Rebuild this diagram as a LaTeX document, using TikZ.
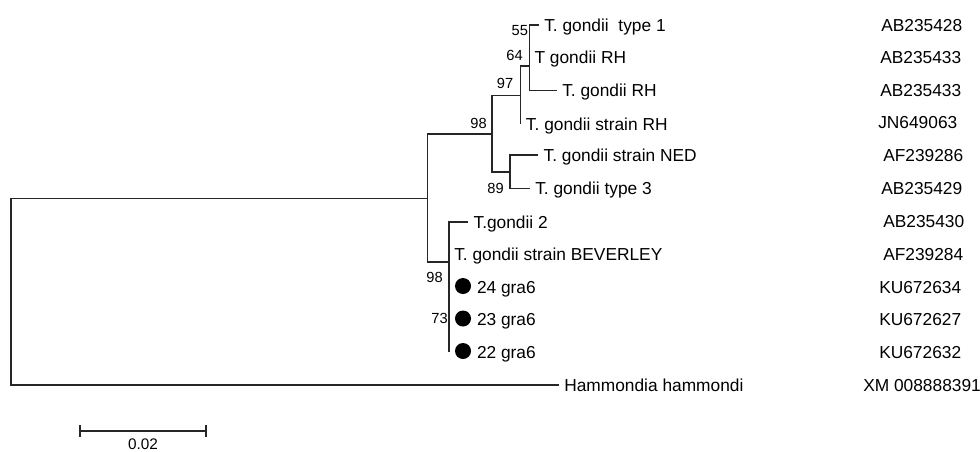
\documentclass[tikz,border=0pt]{standalone}
\usepackage{fontspec}
\setmainfont{Liberation Sans}
\usetikzlibrary{arrows.meta}

\begin{document}
\begin{tikzpicture}[x=0.75pt,y=-0.75pt,
	branch/.style={line width=1.15pt,color=black!85},
	leaf/.style={anchor=base west,inner sep=0pt,font=\fontsize{13}{15}\selectfont},
	boot/.style={anchor=east,inner sep=0pt,font=\fontsize{11}{13}\selectfont},
	accession/.style={anchor=base west,inner sep=0pt,font=\fontsize{13}{15}\selectfont},
	sample/.style={circle,fill=black,inner sep=0pt,minimum size=12pt}]

\useasboundingbox (0,0) rectangle (980,451);

% inner nodes of the tree
\coordinate (root) at (11,292);
\coordinate (toxo) at (427.5,198.5);
\coordinate (upper) at (492,134);
\coordinate (n97) at (520.7,95.3);
\coordinate (n64) at (529.3,66);
\coordinate (n55) at (529.3,41);
\coordinate (n89) at (510,172);
\coordinate (lower) at (449,262);
\coordinate (n73) at (449,303);

% tips
\coordinate (tip1) at (539,25);
\coordinate (tip2) at (529.3,57.3);
\coordinate (tip3) at (557,90.7);
\coordinate (tip4) at (520.7,124);
\coordinate (tip5) at (538.3,155);
\coordinate (tip6) at (530,188.5);
\coordinate (tip7) at (468.3,222);
\coordinate (tip8) at (449,254);
\coordinate (tip9) at (449,287);
\coordinate (tip10) at (449,319.5);
\coordinate (tip11) at (449,352);
\coordinate (tip12) at (559,385);

\foreach \a/\b in {root/toxo,root/tip12,toxo/upper,toxo/lower,
	upper/n97,upper/n89,n97/n64,n97/tip4,n64/n55,n64/tip3,n55/tip1,n55/tip2,
	n89/tip5,n89/tip6,lower/tip7,lower/n73,n73/tip8,n73/tip9,n73/tip10,n73/tip11}{
	\draw[branch] (\a) |- (\b);
}

% taxon names
\foreach \t/\txt in {tip1/{T. gondii~~type 1},tip2/{T gondii RH},tip3/{T. gondii RH},
	tip4/{T. gondii strain RH},tip5/{T. gondii strain NED},tip6/{T. gondii type 3},
	tip7/{T.gondii 2},tip8/{T. gondii strain BEVERLEY},tip12/{Hammondia hammondi}}{
	\node[leaf] (name-\t) at ([xshift=3.75pt,yshift=-4.5pt]\t) {\txt};
}

\foreach \t/\txt in {tip9/24,tip10/23,tip11/22}{
	\node[sample] (dot-\t) at ([xshift=10.5pt,yshift=0.75pt]\t) {};
	\node[leaf] (name-\t) at ([xshift=20.8pt,yshift=-4.5pt]\t) {\txt\ gra6};
}

% bootstrap values
\node[boot] (b55) at (528.3,30.5) {55};
\node[boot] (b64) at (523,55) {64};
\node[boot] (b97) at (513.5,83.3) {97};
\node[boot] (b98a) at (487,123) {98};
\node[boot] (b89) at (504,188.3) {89};
\node[boot] (b98b) at (443,277) {98};
\node[boot] (b73) at (448,318) {73};

% accession numbers
\foreach \x/\y/\acc in {881/25/AB235428,880/57.3/AB235433,880/90.3/AB235433,
	878/122.5/JN649063,883/155/AF239286,881/188/AB235429,883/221.3/AB235430,
	883/254/AF239284,879/287/KU672634,879/319.5/KU672627,879/352/KU672632,
	863/385/XM 008888391}{
	\node[accession] at (\x,\y+6) {\acc};
}

% scale bar
\coordinate (barL) at (79,431);
\coordinate (barR) at (207,431);
\draw[branch,{Bar[width=9pt]}-{Bar[width=9pt]}] (barL) -- (barR);
\node[anchor=base,inner sep=0pt,font=\fontsize{11.5}{13}\selectfont] (barlab) at (143,449.5) {0.02};

\end{tikzpicture}
\end{document}
